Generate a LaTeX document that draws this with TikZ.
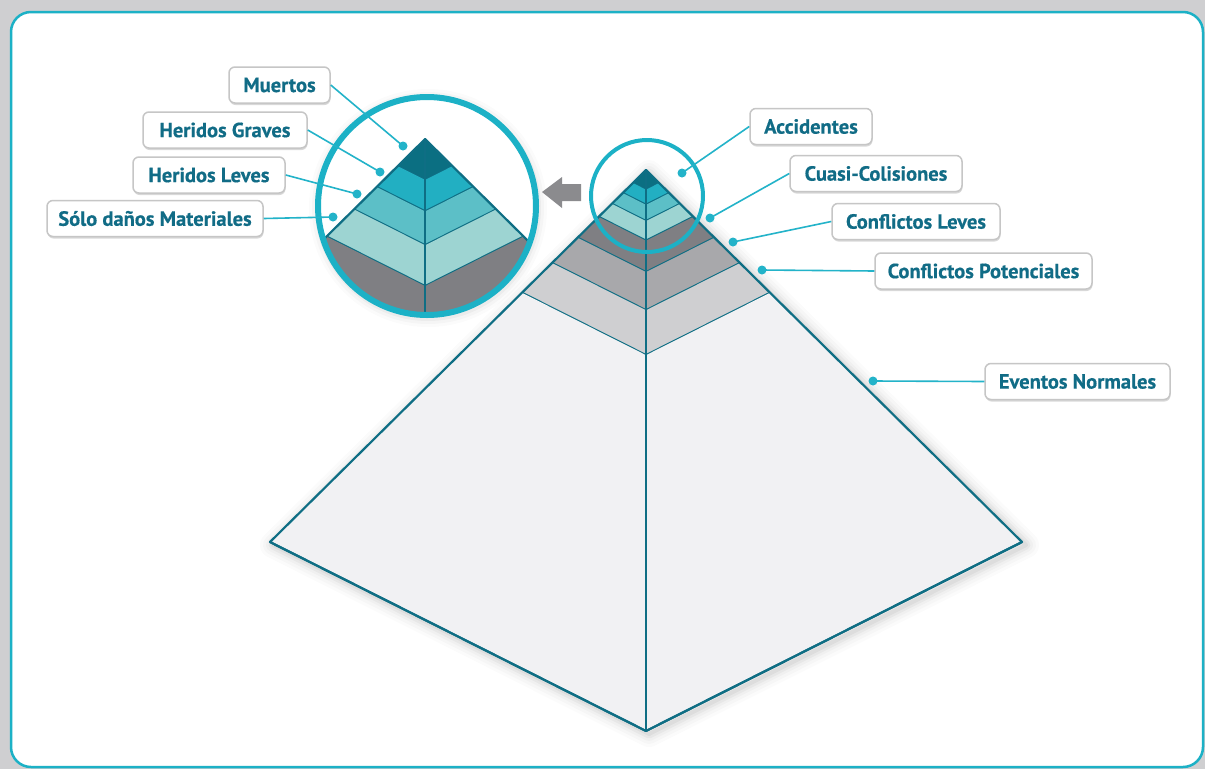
\documentclass[tikz,border=0pt]{standalone}
\usepackage{fontspec}
\setmainfont{PT Sans}
\newfontfamily\labfont[BoldFeatures={FakeBold=0.5}]{PT Sans}
\usetikzlibrary{calc, shadows}
\definecolor{tipdark}{HTML}{0B6F82}
\definecolor{tipteal}{HTML}{22AFC2}
\definecolor{tipmid}{HTML}{5CBFC7}
\definecolor{tiplight}{HTML}{9DD4D2}
\definecolor{graydark}{HTML}{7F7F83}
\definecolor{graymid}{HTML}{A8A8AB}
\definecolor{graylight}{HTML}{CFCFD1}
\definecolor{grayfaint}{HTML}{F1F1F3}
\definecolor{edgeteal}{HTML}{0F6E84}
\definecolor{ringteal}{HTML}{1CB1C6}
\definecolor{linkteal}{HTML}{23B3C9}
\definecolor{labtext}{HTML}{116C86}
\definecolor{arrowgray}{HTML}{8B8B8E}
\definecolor{bgshade}{HTML}{CFCFD1}

\tikzset{
  edge/.style={draw=edgeteal, line width=2.2pt, line join=round},
  lab/.style={rectangle, rounded corners=6pt, fill=white, draw=gray!45, line width=1.5pt,
    minimum height=36, inner xsep=6pt, text=labtext,
    font=\labfont\fontsize{20.5}{22}\selectfont\bfseries,
    drop shadow={shadow xshift=0.5pt, shadow yshift=-2pt, opacity=0.3, fill=gray}},
  link/.style={draw=linkteal, line width=1.6pt},
  dot/.style={circle, fill=linkteal, inner sep=0pt, minimum size=9},
}

\newcommand{\pyramidbody}{%
  \coordinate (A) at (646,170);
  \coordinate (L) at (270,542);
  \coordinate (R) at (1022,542);
  \coordinate (F) at (646,731);
  \foreach \ta/\tb/\col in {0/0.035/tipdark, 0.035/0.062/tipteal, 0.062/0.091/tipmid,
      0.091/0.126/tiplight, 0.126/0.182/graydark, 0.182/0.25/graymid,
      0.25/0.33/graylight, 0.33/1/grayfaint}{
    \fill[\col] ($(A)!\ta!(L)$) -- ($(A)!\ta!(F)$) -- ($(A)!\ta!(R)$)
      -- ($(A)!\tb!(R)$) -- ($(A)!\tb!(F)$) -- ($(A)!\tb!(L)$) -- cycle;
    \draw[edge] ($(A)!\tb!(L)$) -- ($(A)!\tb!(F)$) -- ($(A)!\tb!(R)$);
  }
  \draw[edge] (A) -- (L) -- (F) -- (R) -- cycle;
  \draw[edge] (A) -- (F);
}

\begin{document}
\begin{tikzpicture}[x=1pt, y=-1pt]
  \useasboundingbox (0,0) rectangle (1205,769);
  \fill[bgshade] (0,0) rectangle (1205,769);
  \draw[ringteal, fill=white, line width=2.5pt, rounded corners=20pt] (11,12) rectangle (1203,767);

  % big pyramid with a soft halo
  \foreach \w/\o in {26/0.015, 20/0.02, 14/0.025, 9/0.035, 4/0.045}
    \draw[black, opacity=\o, line width=\w pt, line join=round]
      (649,173) -- (273,545) -- (649,734) -- (1026,545) -- cycle;
  \pyramidbody
  \draw[ringteal, line width=4pt] (647,196) circle (56);

  % magnified tip
  \foreach \w/\o in {20/0.015, 14/0.025, 8/0.035}
    \draw[black, opacity=\o, line width=\w pt] (428,208) circle (109);
  \fill[white] (427,206) circle (109);
  \begin{scope}
    \clip (427,206) circle (107);
    \begin{scope}[shift={(425,139)}, scale=2.08, shift={(-646,-170)}]
      \pyramidbody
    \end{scope}
  \end{scope}
  \draw[ringteal, line width=6pt] (427,206) circle (109);

  \fill[arrowgray] (542,192) -- ++(20,-15) -- ++(0,7) -- ++(19,0) -- ++(0,17)
    -- ++(-19,0) -- ++(0,7) -- cycle;

  % labels
  \node[lab, minimum width=101] (muertos) at (279.5,85) {Muertos};
  \node[lab, minimum width=164] (herGraves) at (225,130) {Heridos Graves};
  \node[lab, minimum width=152] (herLeves) at (209,175) {Heridos Leves};
  \node[lab, minimum width=216] (soloDanos) at (155,218.5) {Sólo daños Materiales};
  \node[lab, minimum width=122] (accidentes) at (811,126.5) {Accidentes};
  \node[lab, minimum width=172] (cuasi) at (876,173.5) {Cuasi-Colisiones};
  \node[lab, minimum width=168] (confLeves) at (916,221.5) {Conflictos Leves};
  \node[lab, minimum width=217] (confPot) at (983.5,271) {Conflictos Potenciales};
  \node[lab, minimum width=185] (eventos) at (1077.5,381.5) {Eventos Normales};

  \node[dot] (dMuertos) at (403,146) {};
  \node[dot] (dHerGraves) at (380,172) {};
  \node[dot] (dHerLeves) at (357,194) {};
  \node[dot] (dSolo) at (333,217) {};
  \node[dot] (dAccidentes) at (682,173) {};
  \node[dot] (dCuasi) at (710,218) {};
  \node[dot] (dConfLeves) at (733,242) {};
  \node[dot] (dConfPot) at (762,270) {};
  \node[dot] (dEventos) at (873,381) {};

  \draw[link] (dMuertos.center) -- (muertos.east);
  \draw[link] (dHerGraves.center) -- (herGraves.east);
  \draw[link] (dHerLeves.center) -- (herLeves.east);
  \draw[link] (dSolo.center) -- (soloDanos.east);
  \draw[link] (dAccidentes.center) -- (accidentes.west);
  \draw[link] (dCuasi.center) -- (cuasi.west);
  \draw[link] (dConfLeves.center) -- (confLeves.west);
  \draw[link] (dConfPot.center) -- (confPot.west);
  \draw[link] (dEventos.center) -- (eventos.west);
\end{tikzpicture}
\end{document}
